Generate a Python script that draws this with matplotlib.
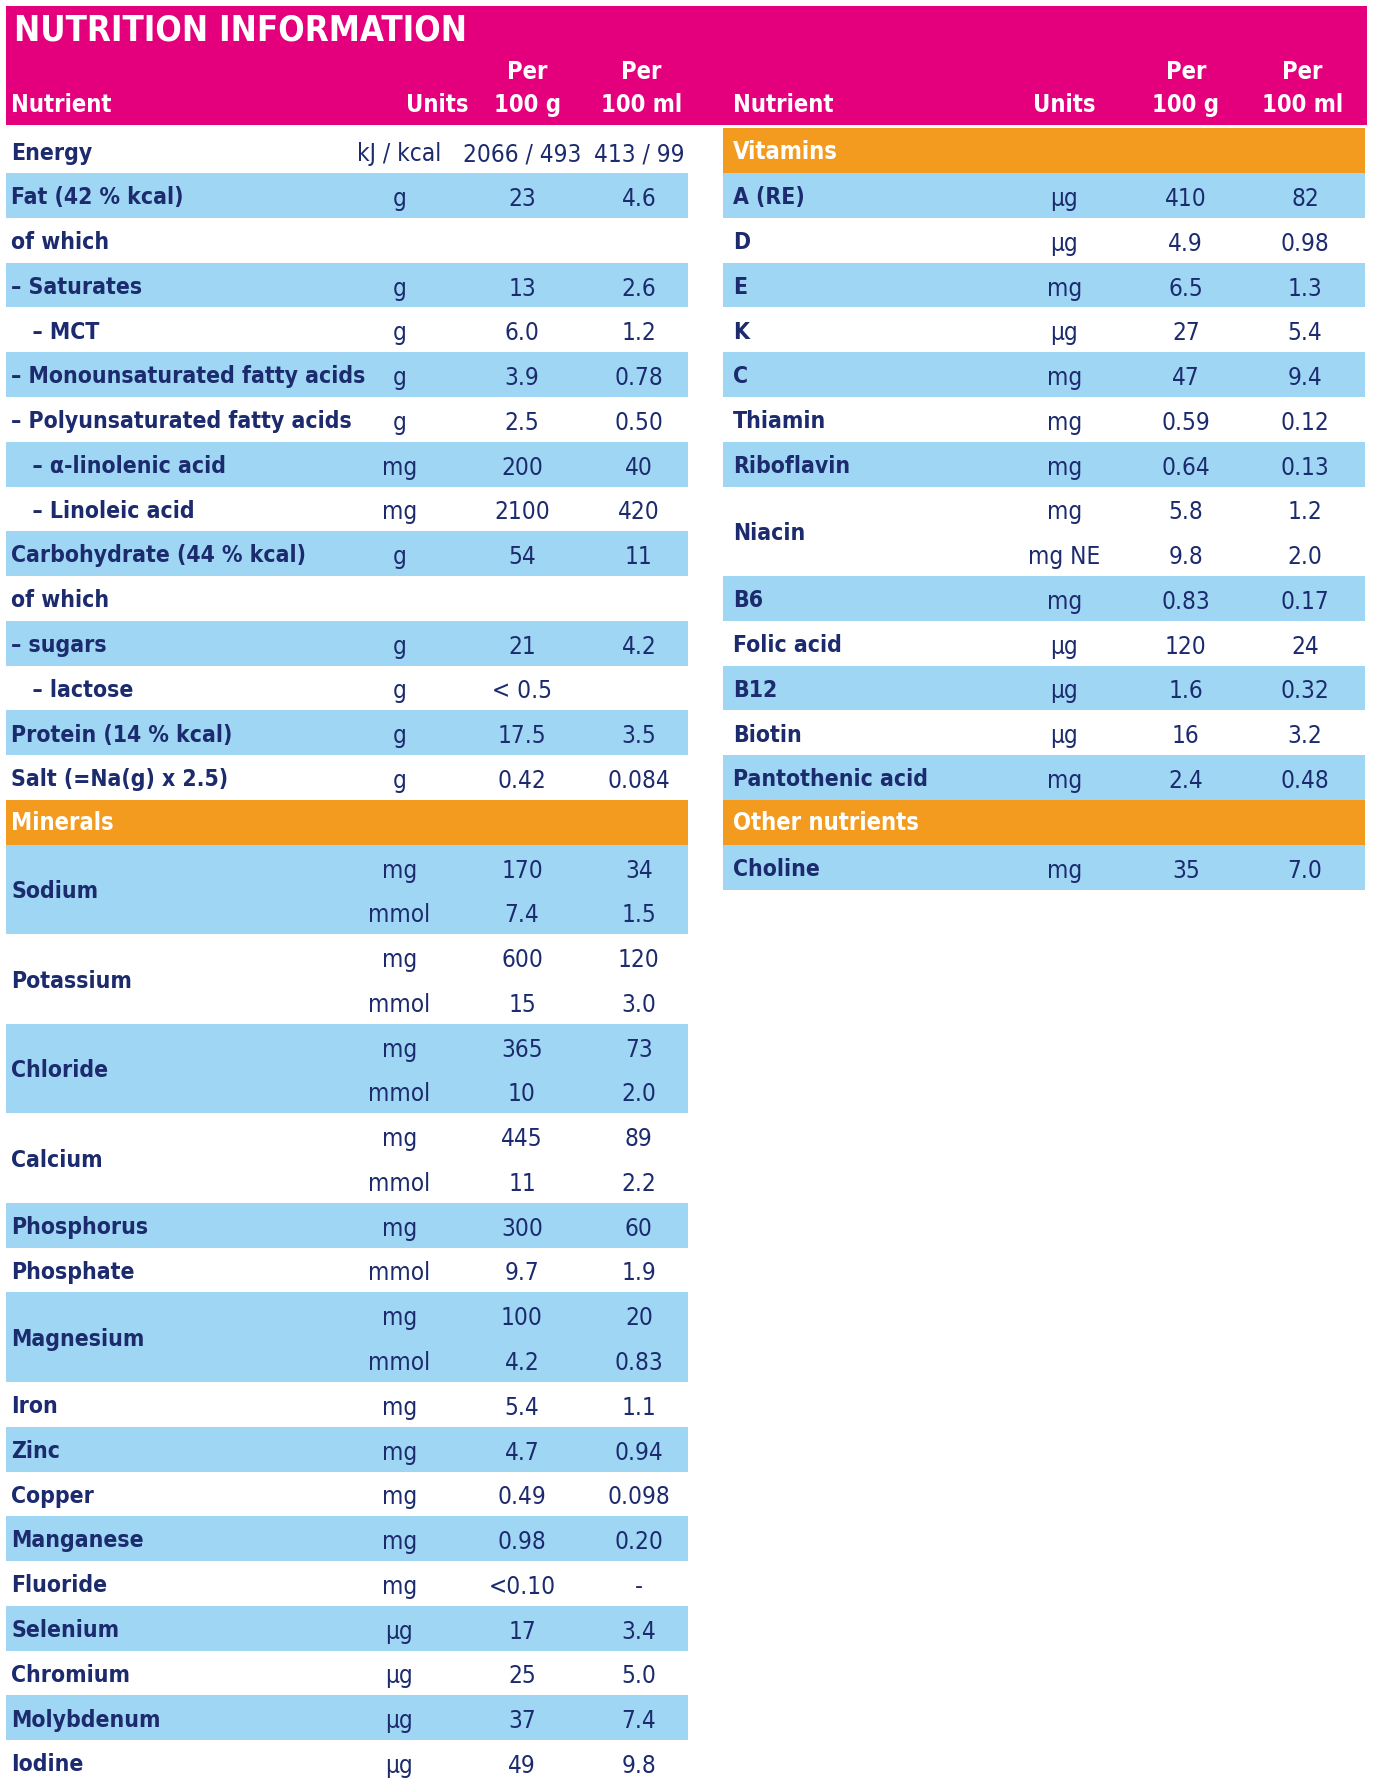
import matplotlib
matplotlib.use("Agg")
import matplotlib.pyplot as plt
from matplotlib.patches import Rectangle

MAGENTA = "#E4007C"
ORANGE = "#F39B1F"
BLUE = "#9FD6F3"
NAVY = "#1C2B6E"
FONTS = ["Liberation Sans Narrow", "DejaVu Sans"]

# one entry per sub-row; rows sharing a group number share a name and a shade
left_names = ["Energy", "Fat (42 % kcal)", "of which", "– Saturates", "   – MCT",
              "– Monounsaturated fatty acids", "– Polyunsaturated fatty acids",
              "   – α-linolenic acid", "   – Linoleic acid", "Carbohydrate (44 % kcal)",
              "of which", "– sugars", "   – lactose", "Protein (14 % kcal)", "Salt (=Na(g) x 2.5)",
              "Minerals", "Sodium", "Sodium", "Potassium", "Potassium", "Chloride", "Chloride",
              "Calcium", "Calcium", "Phosphorus", "Phosphate", "Magnesium", "Magnesium",
              "Iron", "Zinc", "Copper", "Manganese", "Fluoride", "Selenium", "Chromium",
              "Molybdenum", "Iodine"]
left_units = ["kJ / kcal", "g", "", "g", "g", "g", "g", "mg", "mg", "g", "", "g", "g", "g", "g",
              "", "mg", "mmol", "mg", "mmol", "mg", "mmol", "mg", "mmol", "mg", "mmol", "mg", "mmol",
              "mg", "mg", "mg", "mg", "mg", "µg", "µg", "µg", "µg"]
left_g = ["2066 / 493", "23", "", "13", "6.0", "3.9", "2.5", "200", "2100", "54", "", "21", "< 0.5",
          "17.5", "0.42", "", "170", "7.4", "600", "15", "365", "10", "445", "11", "300", "9.7",
          "100", "4.2", "5.4", "4.7", "0.49", "0.98", "<0.10", "17", "25", "37", "49"]
left_ml = ["413 / 99", "4.6", "", "2.6", "1.2", "0.78", "0.50", "40", "420", "11", "", "4.2", "",
           "3.5", "0.084", "", "34", "1.5", "120", "3.0", "73", "2.0", "89", "2.2", "60", "1.9",
           "20", "0.83", "1.1", "0.94", "0.098", "0.20", "-", "3.4", "5.0", "7.4", "9.8"]

right_names = ["Vitamins", "A (RE)", "D", "E", "K", "C", "Thiamin", "Riboflavin", "Niacin", "Niacin",
               "B6", "Folic acid", "B12", "Biotin", "Pantothenic acid", "Other nutrients", "Choline"]
right_units = ["", "µg", "µg", "mg", "µg", "mg", "mg", "mg", "mg", "mg NE", "mg", "µg", "µg", "µg",
               "mg", "", "mg"]
right_g = ["", "410", "4.9", "6.5", "27", "47", "0.59", "0.64", "5.8", "9.8", "0.83", "120", "1.6",
           "16", "2.4", "", "35"]
right_ml = ["", "82", "0.98", "1.3", "5.4", "9.4", "0.12", "0.13", "1.2", "2.0", "0.17", "24", "0.32",
            "3.2", "0.48", "", "7.0"]
section_titles = ["Minerals", "Vitamins", "Other nutrients"]

W, H = 1210, 1570
ROW = 39.4
TOP = 113

fig = plt.figure(figsize=(13.73, 17.84), dpi=100)
ax = fig.add_axes([0, 0, 1, 1])
ax.set_xlim(0, W)
ax.set_ylim(H, 0)
ax.axis("off")

def txt(x, y, s, ha="left", bold=False, size=18, color=NAVY):
    ax.text(x, y, s, ha=ha, va="center", fontsize=size, color=color,
            fontfamily=FONTS, fontweight="bold" if bold else "normal", fontstretch="condensed")

# header band
ax.add_patch(Rectangle((5, 5), W - 10, 105, color=MAGENTA, lw=0))
txt(12, 27, "NUTRITION INFORMATION", size=25, color="white", bold=True)
for x0, xu, xg, xm in [(10, 385, 465, 565), (646, 938, 1045, 1148)]:
    txt(x0, 92, "Nutrient", bold=True, color="white", size=17)
    txt(xu, 92, "Units", ha="center", bold=True, color="white", size=17)
    txt(xg, 63, "Per", ha="center", bold=True, color="white", size=17)
    txt(xg, 92, "100 g", ha="center", bold=True, color="white", size=17)
    txt(xm, 63, "Per", ha="center", bold=True, color="white", size=17)
    txt(xm, 92, "100 ml", ha="center", bold=True, color="white", size=17)

def table(names, units, vg, vml, x0, x1, xn, xu, xg, xm):
    # group consecutive rows with the same name (except "of which")
    groups = []
    for i, n in enumerate(names):
        if groups and n == names[groups[-1][0]] and n != "of which":
            groups[-1].append(i)
        else:
            groups.append([i])
    shade = False
    for g in groups:
        name = names[g[0]]
        y0 = TOP + g[0] * ROW
        h = len(g) * ROW
        if name in section_titles:
            ax.add_patch(Rectangle((x0, y0), x1 - x0, h, color=ORANGE, lw=0))
            txt(xn, y0 + h / 2 + 1, name, bold=True, color="white", size=17)
            shade = True
            continue
        if shade:
            ax.add_patch(Rectangle((x0, y0), x1 - x0, h, color=BLUE, lw=0))
        shade = not shade
        txt(xn, y0 + h / 2 + 2, name, bold=True, size=16.5)
        for i in g:
            yc = TOP + i * ROW + ROW / 2 + 3
            txt(xu, yc, units[i], ha="center", size=17.5)
            txt(xg, yc, vg[i], ha="center", size=17.5)
            txt(xm, yc, vml[i], ha="center", size=17.5)

table(left_names, left_units, left_g, left_ml, 5, 606, 10, 352, 460, 563)
table(right_names, right_units, right_g, right_ml, 637, 1203, 646, 938, 1045, 1150)

fig.savefig("out.png", dpi=100)
